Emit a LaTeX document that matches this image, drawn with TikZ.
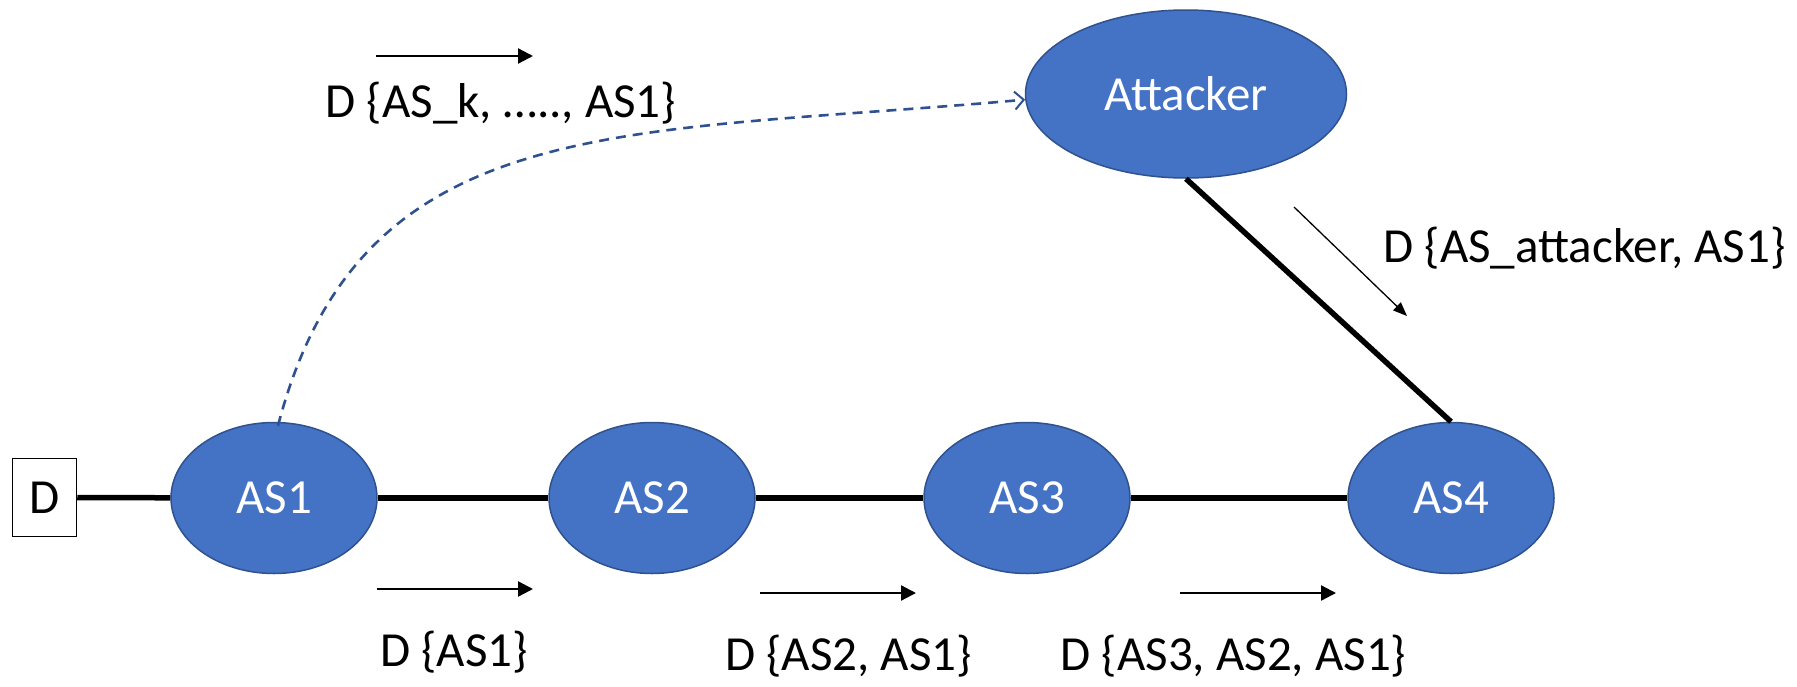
\documentclass[tikz,border=0pt]{standalone}
\usepackage{fontspec}
\setmainfont{Carlito}
\usetikzlibrary{arrows.meta,shapes.geometric,calc}
\definecolor{asfill}{HTML}{4472C4}
\definecolor{asborder}{HTML}{2F528F}
\begin{document}
\begin{tikzpicture}[x=1pt,y=-1pt,
  txt/.style={font=\fontsize{49}{54}\selectfont},
  asnode/.style={ellipse, draw=asborder, line width=1.5pt, fill=asfill, text=white,
    minimum width=206pt, minimum height=151pt, inner sep=0pt, txt},
  lbl/.style={anchor=base, inner sep=0pt, txt},
  link/.style={line width=5.5pt},
  flow/.style={line width=2.3pt, -{Triangle[length=15pt,width=15pt]}},
  thinflow/.style={line width=1.3pt, -{Triangle[length=14pt,width=11pt]}},
  dashlink/.style={draw=asborder, line width=2.6pt, dash pattern=on 10pt off 7pt,
    -{Straight Barb[length=9pt,width=18pt,line width=2pt]}},
]
\useasboundingbox (0,0) rectangle (1797,686);

% nodes
\node[draw, line width=1.5pt, minimum width=64pt, minimum height=78pt, inner sep=0pt, txt] (D) at (44.5,497.5) {D};
\node[asnode] (AS1) at (274,498) {AS1};
\node[asnode] (AS2) at (652,498) {AS2};
\node[asnode] (AS3) at (1027,498) {AS3};
\node[asnode] (AS4) at (1451,498) {AS4};
\node[asnode, minimum width=321pt, minimum height=168pt] (Attacker) at (1186,94) {Attacker};

% links
\draw[link] (D) -- (AS1);
\draw[link] (AS1) -- (AS2);
\draw[link] (AS2) -- (AS3);
\draw[link] (AS3) -- (AS4);
\draw[link] (Attacker.south) -- (AS4.north);

% dashed announcement to attacker
\draw[dashlink] ($(AS1.north)+(4,4)$) .. controls (361,108) and (623,136) .. (Attacker.182);

% flow arrows
\coordinate (f0s) at (376,56);   \coordinate (f0e) at (533,56);
\coordinate (f1s) at (377,589);  \coordinate (f1e) at (533,589);
\coordinate (f2s) at (760,593);  \coordinate (f2e) at (916,593);
\coordinate (f3s) at (1180,593); \coordinate (f3e) at (1336,593);
\coordinate (fas) at (1294,207); \coordinate (fae) at (1407,316);
\draw[flow] (f0s) -- (f0e);
\draw[flow] (f1s) -- (f1e);
\draw[flow] (f2s) -- (f2e);
\draw[flow] (f3s) -- (f3e);
\draw[thinflow] (fas) -- (fae);

% labels
\node[lbl] (l0) at (501,117) {D \{AS\_k, ….., AS1\}};
\node[lbl] (la) at (1584.5,262) {D \{AS\_attacker, AS1\}};
\node[lbl] (l1) at (454,666) {D \{AS1\}};
\node[lbl] (l2) at (848.5,670) {D \{AS2, AS1\}};
\node[lbl] (l3) at (1233.5,670) {D \{AS3, AS2, AS1\}};
\end{tikzpicture}
\end{document}
